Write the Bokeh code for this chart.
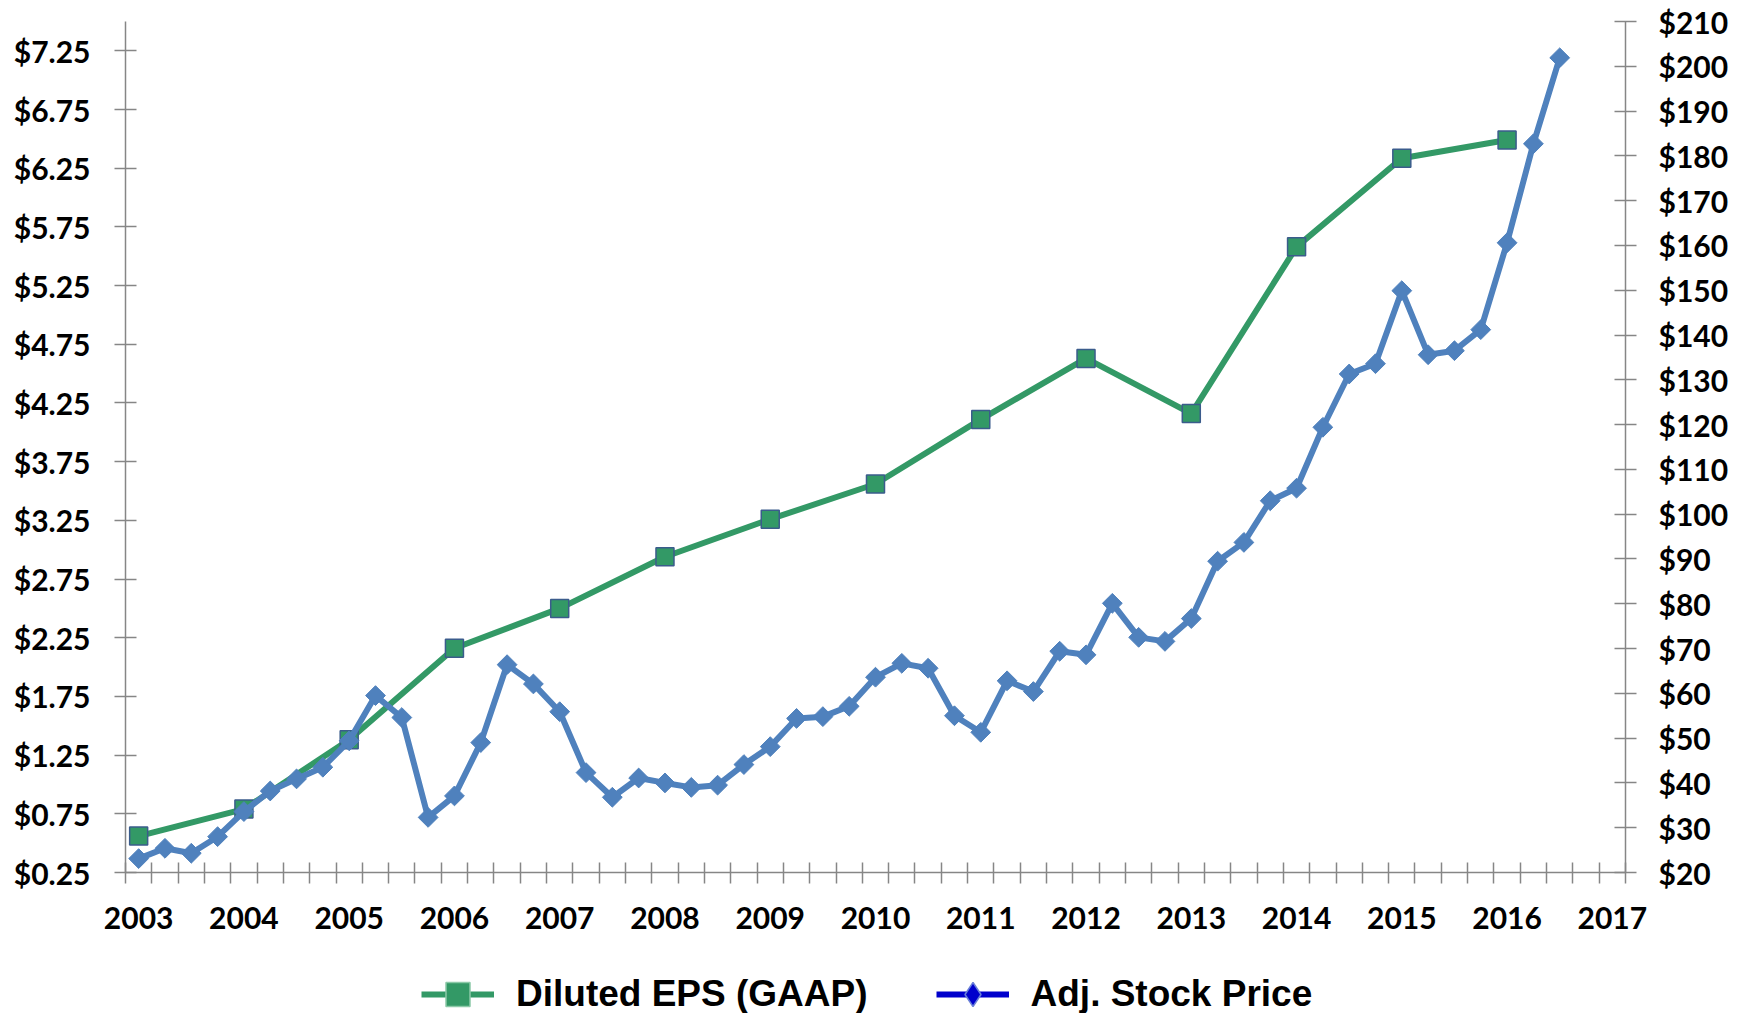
import numpy as np
from bokeh.plotting import figure
from bokeh.layouts import column
from bokeh.models import (Range1d, LinearAxis, FixedTicker, NumeralTickFormatter,
                          Legend, LegendItem)
from bokeh.embed import file_html
from bokeh.resources import INLINE

# ---------------- data ----------------
quarters = [f"{y} Q{q}" for y in range(2003, 2018) for q in range(1, 5)][:57]
year_labels = ["2003", "2004", "2005", "2006", "2007", "2008", "2009", "2010",
               "2011", "2012", "2013", "2014", "2015", "2016", "2017"]

eps_years = ["2003", "2004", "2005", "2006", "2007", "2008", "2009", "2010",
             "2011", "2012", "2013", "2014", "2015", "2016"]
eps_values = [0.56, 0.79, 1.38, 2.16, 2.50, 2.94, 3.26, 3.56,
              4.11, 4.63, 4.16, 5.58, 6.335, 6.49]

price_values = [23.1, 25.4, 24.3, 28.0, 33.6, 38.2, 40.9, 43.5, 49.4, 59.5,
                54.6, 32.3, 37.1, 49.0, 66.4, 62.1, 55.9, 42.3, 36.8, 41.1,
                40.0, 39.0, 39.5, 44.1, 48.1, 54.4, 54.8, 57.1, 63.6, 66.7,
                65.6, 55.0, 51.3, 62.8, 60.4, 69.4, 68.6, 80.1, 72.5, 71.6,
                76.7, 89.5, 93.7, 103.0, 105.8, 119.4, 131.3, 133.6, 149.9, 135.6,
                136.5, 141.2, 160.6, 182.7, 201.9]

eps_ticks = [0.25, 0.75, 1.25, 1.75, 2.25, 2.75, 3.25, 3.75, 4.25, 4.75,
             5.25, 5.75, 6.25, 6.75, 7.25]
price_ticks = list(range(20, 211, 10))

# positions from categories
q_index = {q: i for i, q in enumerate(quarters)}
price_x = list(range(len(price_values)))
eps_x = [q_index[y + " Q1"] for y in eps_years]
label_x = [q_index[y + " Q1"] for y in year_labels]

GREEN = "#339966"
BLUE = "#4F81BD"
AXIS = "#868686"
W = 1748

p = figure(width=W, height=950, output_backend="svg", toolbar_location=None,
           x_range=Range1d(-0.5, len(quarters) - 0.5), y_range=Range1d(0.25, 7.5),
           min_border_left=125, min_border_right=123, min_border_top=21,
           min_border_bottom=78)
p.extra_y_ranges = {"price": Range1d(20, 210)}
p.outline_line_color = None
p.grid.visible = False

# x axis
xa = p.xaxis[0]
xa.ticker = FixedTicker(ticks=label_x, minor_ticks=[i - 0.5 for i in range(len(quarters) + 1)])
xa.major_label_overrides = {x: lab for x, lab in zip(label_x, year_labels)}
xa.major_tick_in = 0
xa.major_tick_out = 11
xa.major_tick_line_color = None
xa.minor_tick_in = 10
xa.minor_tick_out = 11
xa.minor_tick_line_color = AXIS
xa.minor_tick_line_width = 1.5
xa.major_label_standoff = 23

# left axis
ya = p.yaxis[0]
ya.ticker = FixedTicker(ticks=eps_ticks)
ya.formatter = NumeralTickFormatter(format="$0.00")
ya.major_label_standoff = 24

# right axis
ra = LinearAxis(y_range_name="price", ticker=FixedTicker(ticks=price_ticks),
                formatter=NumeralTickFormatter(format="$0"))
ra.major_label_standoff = 22
p.add_layout(ra, "right")

for ax in [xa, ya, ra]:
    ax.axis_line_color = AXIS
    ax.axis_line_width = 1.5
    ax.major_label_text_font = "Lato"
    ax.major_label_text_font_style = "bold"
    ax.major_label_text_font_size = "30px"
    ax.major_label_text_color = "black"
for ax in [ya, ra]:
    ax.major_tick_in = 11
    ax.major_tick_out = 11
    ax.major_tick_line_color = AXIS
    ax.major_tick_line_width = 1.5
    ax.minor_tick_line_color = None

# series
p.line(eps_x, eps_values, line_color=GREEN, line_width=6)
p.scatter(eps_x, eps_values, marker="square", size=18, fill_color=GREEN,
          line_color="#3B5C8C", line_width=1.5)
p.line(price_x, price_values, y_range_name="price", line_color=BLUE, line_width=6)
p.scatter(price_x, price_values, y_range_name="price", marker="square",
          angle=np.pi / 4, size=14, fill_color=BLUE, line_color=BLUE, line_width=1)

# ---------------- legend strip ----------------
LH = 63
q = figure(width=W, height=LH, output_backend="svg", toolbar_location=None,
           x_range=Range1d(0, W), y_range=Range1d(0, LH),
           min_border_left=0, min_border_right=0, min_border_top=0, min_border_bottom=0,
           x_axis_type=None, y_axis_type=None)
q.outline_line_color = None
q.grid.visible = False

lg_line = q.line([np.nan], [np.nan], line_color=GREEN, line_width=6)
lg_sq = q.scatter([np.nan], [np.nan], marker="square", fill_color=GREEN,
                  line_color="#8CC9A8", line_width=1.5)
lb_line = q.line([np.nan], [np.nan], line_color="#0000CC", line_width=6)
lb_dia = q.scatter([np.nan], [np.nan], marker="diamond", fill_color="#0000CC",
                   line_color="#6A80D8", line_width=1.5)

legend = Legend(items=[LegendItem(label="Diluted EPS (GAAP)", renderers=[lg_line, lg_sq]),
                       LegendItem(label="Adj. Stock Price", renderers=[lb_line, lb_dia])],
                location=(296, -10.5), orientation="horizontal",
                glyph_width=73, glyph_height=60, label_standoff=22, spacing=68,
                padding=0, margin=0, border_line_color=None, background_fill_alpha=0,
                label_text_font="Liberation Sans", label_text_font_style="bold",
                label_text_font_size="37px", label_text_color="black")
q.add_layout(legend)

layout = column(p, q, spacing=0)
open("out.html", "w").write(file_html(layout, INLINE))
